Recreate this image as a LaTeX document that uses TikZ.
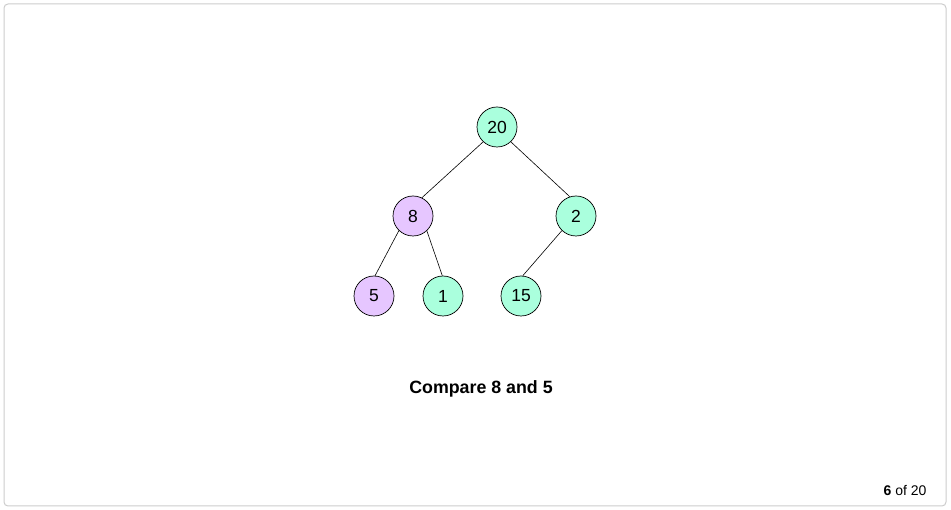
\documentclass[tikz,border=0pt]{standalone}
\usepackage{fontspec}
\setmainfont{Liberation Sans}
\definecolor{heapgreen}{HTML}{AAFFDD}
\definecolor{heappurple}{HTML}{E6C6FF}
\definecolor{framegray}{HTML}{CCCCCC}
\begin{document}
\begin{tikzpicture}[x=1pt,y=-1pt,
  heapnode/.style={circle,draw=black,line width=0.7pt,minimum size=40pt,inner sep=0pt,font=\fontsize{17.5}{20}\selectfont},
  plain/.style={heapnode,fill=heapgreen},
  active/.style={heapnode,fill=heappurple},
  edge/.style={draw=black,line width=0.6pt}]
  \useasboundingbox (0,0) rectangle (951,510);
  \draw[framegray,line width=1pt,rounded corners=4pt] (4,4) rectangle (946,506);
  \node[plain]  (n20) at (497,127) {20};
  \node[active] (n8)  at (413,216) {8};
  \node[plain]  (n2)  at (576,216) {2};
  \node[active] (n5)  at (374,296) {5};
  \node[plain]  (n1)  at (443,296) {1};
  \node[plain]  (n15) at (521,296) {15};
  \draw[edge] (n20.227) -- (n8.64);
  \draw[edge] (n20.313) -- (n2.108);
  \draw[edge] (n8.226) -- (n5.87);
  \draw[edge] (n8.313) -- (n1.92);
  \draw[edge] (n2.226) -- (n15.85);
  \node[font=\fontsize{17.8}{20}\selectfont\bfseries] (caption) at (481,389) {Compare 8 and 5};
  \node[font=\fontsize{14}{16}\selectfont,anchor=east] (counter) at (930,491) {\textbf{6} of 20};
\end{tikzpicture}
\end{document}
